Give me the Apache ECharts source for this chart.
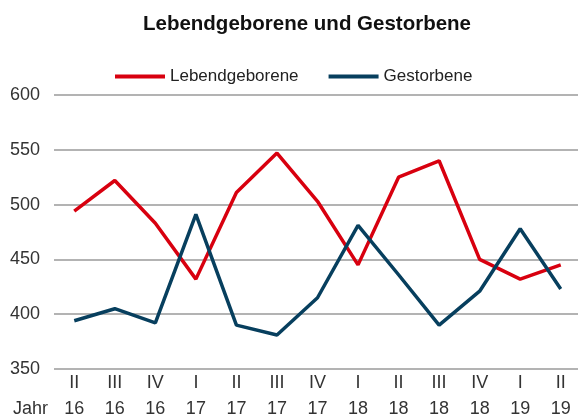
<!DOCTYPE html>
<html><head><meta charset="utf-8">
<script src="https://cdn.jsdelivr.net/npm/echarts@6/dist/echarts.min.js"></script>
<style>html,body{margin:0;padding:0;background:#fff}#c{width:578px;height:419px}</style>
</head><body><div id="c"></div>
<script>
const quarters = ['II','III','IV','I','II','III','IV','I','II','III','IV','I','II'];
const years = ['16','16','16','17','17','17','17','18','18','18','18','19','19'];
const lebendgeborene = [494, 522, 483, 432, 511, 547, 503, 445, 525, 540, 450, 432, 445];
const gestorbene = [394, 405, 392, 491, 390, 381, 415, 481, 436, 390, 421, 478, 423];
const yTicks = [350, 400, 450, 500, 550, 600];

const cats = quarters.map((q, i) => q + '\n' + years[i]);
const chart = echarts.init(document.getElementById('c'));
const font = 'Liberation Sans, Arial, sans-serif';
chart.setOption({
  animation: false,
  title: {
    text: 'Lebendgeborene und Gestorbene',
    left: 302, top: 9, textAlign: 'center',
    textStyle: {fontFamily: font, fontSize: 20.5, fontWeight: 'bold', color: '#111'}
  },
  legend: {
    top: 63, left: 110,
    itemWidth: 50, itemHeight: 4, itemGap: 30,
    icon: 'rect',
    textStyle: {fontFamily: font, fontSize: 17, color: '#222'},
    data: ['Lebendgeborene', 'Gestorbene']
  },
  graphic: [{
    type: 'text', x: 13, y: 409,
    style: {text: 'Jahr', font: '18px Liberation Sans, Arial, sans-serif', fill: '#333', verticalAlign: 'middle'}
  }],
  grid: {left: 54, top: 95, width: 527, height: 274, containLabel: false, outerBoundsMode: 'none'},
  xAxis: {
    type: 'category', data: cats, boundaryGap: true,
    axisLine: {show: false}, axisTick: {show: false},
    axisLabel: {fontFamily: font, fontSize: 18, color: '#333', lineHeight: 26, margin: 1, interval: 0}
  },
  yAxis: {
    type: 'value', min: yTicks[0], max: yTicks[yTicks.length - 1], interval: 50,
    axisLine: {show: false}, axisTick: {show: false},
    axisLabel: {fontFamily: font, fontSize: 18, color: '#333', margin: 14},
    splitLine: {lineStyle: {color: '#9a9a9a', width: 1.5}}
  },
  series: [
    {name: 'Lebendgeborene', type: 'line', data: lebendgeborene, symbol: 'none',
     lineStyle: {color: '#d8000f', width: 3.5}, itemStyle: {color: '#d8000f'}},
    {name: 'Gestorbene', type: 'line', data: gestorbene, symbol: 'none',
     lineStyle: {color: '#073f5e', width: 3.5}, itemStyle: {color: '#073f5e'}}
  ]
});
</script></body></html>
